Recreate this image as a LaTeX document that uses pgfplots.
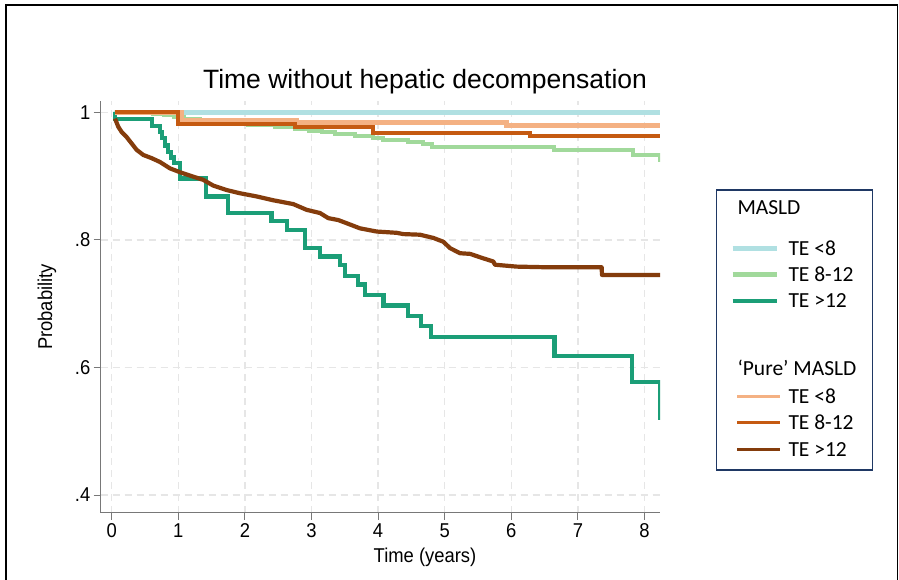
\documentclass[border=0pt]{standalone}
\usepackage{fontspec}
\setmainfont{Liberation Sans}
\newfontfamily\narrowfont[FakeStretch=0.92]{Liberation Sans}
\newfontfamily\legfont{Carlito}
\usepackage{pgfplots}
\pgfplotsset{compat=1.18}
\definecolor{cBlue}{RGB}{176,224,226}
\definecolor{cLGreen}{RGB}{161,217,155}
\definecolor{cTeal}{RGB}{27,158,119}
\definecolor{cLOrange}{RGB}{244,177,131}
\definecolor{cOrange}{RGB}{197,90,17}
\definecolor{cBrown}{RGB}{132,60,12}
\definecolor{cNavy}{RGB}{31,56,100}
\definecolor{cAxis}{RGB}{120,120,120}
\definecolor{cGrid}{RGB}{230,230,230}
\begin{document}
\begin{tikzpicture}
\useasboundingbox (0,0) rectangle (899bp,-580bp);
\fill[white] (0,0) rectangle (899bp,-580bp);
\draw[line width=1.8bp] (6bp,-600bp) -- (6bp,-5bp) -- (897.5bp,-5bp) -- (897.5bp,-600bp);
\begin{axis}[
  at={(100.5bp,-512.5bp)}, anchor=south west,
  scale only axis, width=559.5bp, height=411.5bp,
  xmin=-0.168, xmax=8.233, ymin=0.3726, ymax=1.0176,
  axis x line*=bottom, axis y line*=left,
  axis line style={cAxis, line width=1.2bp, -},
  xtick={0,1,2,3,4,5,6,7,8}, xticklabels={0,1,2,3,4,5,6,7,8},
  ytick={0.4,0.6,0.8,1}, yticklabels={.4,.6,.8,1},
  tick align=outside, major tick length=7bp,
  tick style={cAxis, line width=1bp},
  xtick pos=bottom, ytick pos=left,
  tick label style={font=\narrowfont\fontsize{20bp}{22bp}\selectfont, black},
  xticklabel style={inner sep=4bp},
  yticklabel style={inner sep=3bp},
  grid=major,
  major grid style={cGrid, line width=1.4bp, dash pattern=on 7bp off 5bp},
]
% MASLD TE <8
\addplot[const plot, cBlue, line width=4.5bp] coordinates {
(0.05,0.9995) (8.233,0.9995)};
% MASLD TE 8-12
\addplot[const plot, cLGreen, line width=4bp] coordinates {
(0.05,1.0) (0.42,0.999) (0.625,0.997) (0.78,0.995) (0.93,0.992) (1.08,0.989)
(1.33,0.986) (1.64,0.983) (2.04,0.980) (2.45,0.977) (2.75,0.974) (2.96,0.971)
(3.16,0.969) (3.36,0.966) (3.66,0.963) (3.92,0.960) (4.07,0.957) (4.45,0.953)
(4.68,0.9495) (4.81,0.946) (6.64,0.9406) (7.83,0.933) (8.23,0.922)};
% MASLD TE >12
\addplot[const plot, cTeal, line width=4.2bp] coordinates {
(0.05,1.0) (0.055,0.989) (0.60,0.979) (0.725,0.969) (0.75,0.959) (0.80,0.948)
(0.85,0.938) (0.886,0.929) (0.935,0.920) (1.03,0.896) (1.416,0.868) (1.75,0.842)
(2.40,0.829) (2.63,0.816) (2.90,0.787) (3.13,0.774) (3.43,0.761) (3.50,0.743)
(3.70,0.730) (3.80,0.714) (4.08,0.697) (4.45,0.681) (4.65,0.665) (4.79,0.648)
(6.65,0.618) (7.81,0.577) (8.23,0.518)};
% Pure TE <8
\addplot[const plot, cLOrange, line width=4.7bp] coordinates {
(0.05,1.0) (1.05,0.987) (2.78,0.984) (5.93,0.979) (8.233,0.979)};
% Pure TE 8-12
\addplot[const plot, cOrange, line width=4bp] coordinates {
(0.05,1.0) (0.99,0.982) (2.75,0.977) (3.93,0.968) (6.28,0.9625) (8.233,0.9625)};
% Pure TE >12
\addplot[cBrown, line width=4.2bp, line join=round] coordinates {
(0.05,0.990) (0.10,0.977) (0.15,0.969) (0.225,0.961) (0.30,0.951) (0.375,0.941)
(0.475,0.933) (0.60,0.928) (0.725,0.922) (0.875,0.912) (1.025,0.906) (1.225,0.899)
(1.375,0.894) (1.525,0.885) (1.727,0.878) (1.926,0.873) (2.177,0.868) (2.426,0.862)
(2.527,0.860) (2.727,0.856) (2.928,0.847) (3.128,0.842) (3.252,0.834) (3.402,0.831)
(3.529,0.826) (3.728,0.818) (3.979,0.813) (4.279,0.811) (4.378,0.809) (4.629,0.808)
(4.829,0.803) (4.979,0.797) (5.080,0.787) (5.230,0.779) (5.380,0.778) (5.580,0.771)
(5.730,0.766) (5.755,0.761) (6.081,0.758) (6.532,0.757) (7.357,0.757) (7.362,0.745)
(8.233,0.745)};
\end{axis}
\node[font=\fontsize{26.5bp}{30bp}\selectfont] at (425bp,-81.5bp) {Time without hepatic decompensation};
\node[font=\narrowfont\fontsize{20bp}{22bp}\selectfont] at (425bp,-557bp) {Time (years)};
\node[font=\narrowfont\fontsize{20bp}{22bp}\selectfont, rotate=90] at (47bp,-307bp) {Probability};
% legend
\draw[cNavy, line width=1.5bp] (716.7bp,-190bp) rectangle (872.3bp,-470bp);
\begin{scope}[every node/.style={anchor=west, inner sep=0pt, font=\legfont\fontsize{21.5bp}{24bp}\selectfont}]
\node at (737.3bp,-207.7bp) {MASLD};
\draw[cBlue, line width=4.5bp] (732.7bp,-248.3bp) -- (776.7bp,-248.3bp);
\node at (788.3bp,-248.3bp) {TE <8};
\draw[cLGreen, line width=4.5bp] (732.7bp,-274.3bp) -- (776.7bp,-274.3bp);
\node at (788.3bp,-274.3bp) {TE 8-12};
\draw[cTeal, line width=4.5bp] (732.7bp,-301bp) -- (776.7bp,-301bp);
\node at (788.3bp,-301bp) {TE >12};
\node at (737.3bp,-368.3bp) {‘Pure’ MASLD};
\draw[cLOrange, line width=3.3bp] (737.3bp,-396.7bp) -- (780bp,-396.7bp);
\node at (788.3bp,-396.7bp) {TE <8};
\draw[cOrange, line width=3.3bp] (737.3bp,-422.7bp) -- (780bp,-422.7bp);
\node at (788.3bp,-422.7bp) {TE 8-12};
\draw[cBrown, line width=3.3bp] (737.3bp,-449.3bp) -- (780bp,-449.3bp);
\node at (788.3bp,-449.3bp) {TE >12};
\end{scope}
\end{tikzpicture}
\end{document}
